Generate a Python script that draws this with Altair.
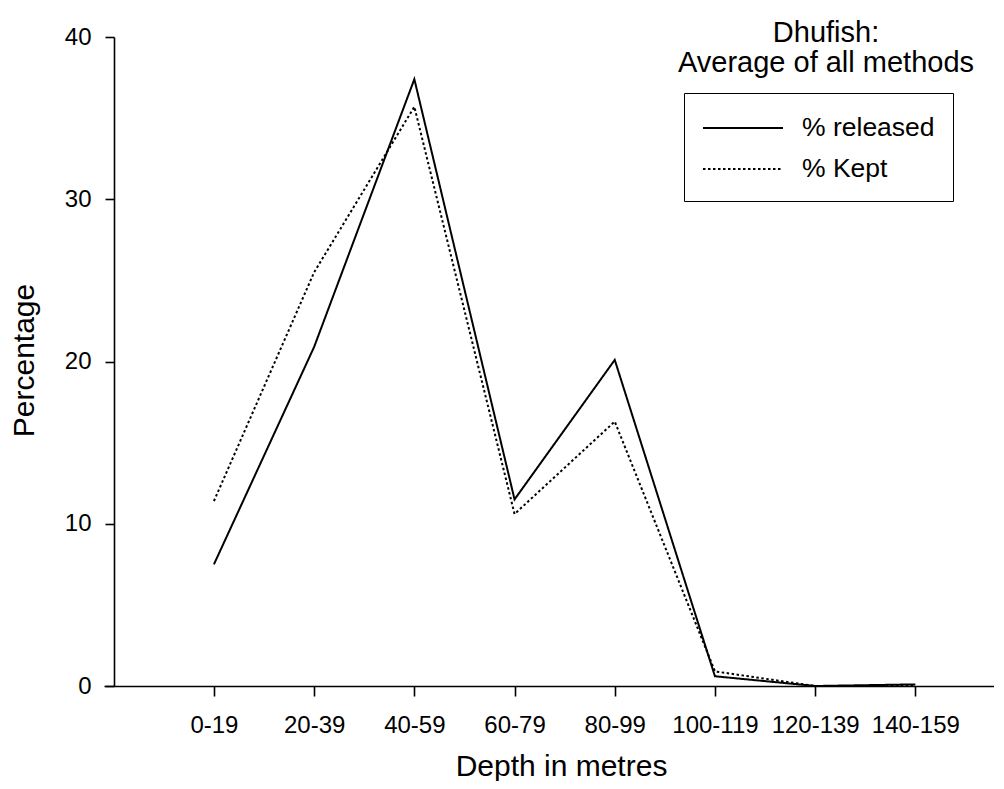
import altair as alt
import pandas as pd

categories = ["0-19", "20-39", "40-59", "60-79", "80-99", "100-119", "120-139", "140-159"]
released = [7.5, 20.9, 37.4, 11.5, 20.1, 0.6, 0.0, 0.1]
kept = [11.4, 25.5, 35.7, 10.6, 16.3, 0.9, 0.0, 0.0]
series_names = ["% released", "% Kept"]
y_ticks = [0, 10, 20, 30, 40]

rows = []
for i, (c, r, k) in enumerate(zip(categories, released, kept)):
    rows.append({"depth": c, "series": "% released", "pct": r, "idx": i})
    rows.append({"depth": c, "series": "% Kept", "pct": k, "idx": i})
df = pd.DataFrame(rows)

FONT = "Liberation Sans"

chart = alt.Chart(df).mark_line(color="black", strokeWidth=2, strokeJoin="miter").encode(
    x=alt.X(
        "depth:N",
        sort=categories,
        scale=alt.Scale(type="point", padding=0.941, align=0.583),
        axis=alt.Axis(
            title="Depth in metres",
            labelAngle=0,
            tickSize=10,
            labelPadding=17,
            titleX=457,
            titleY=89,
            titleBaseline="alphabetic",
            titleAlign="center",
        ),
    ),
    y=alt.Y(
        "pct:Q",
        scale=alt.Scale(domain=[0, 40], nice=False, zero=True),
        axis=alt.Axis(
            title="Percentage",
            values=y_ticks,
            offset=-10,
            tickSize=9,
            labelPadding=14,
            titleAngle=270,
            titleX=-81,
            titleY=323,
            titleBaseline="alphabetic",
            titleAlign="center",
        ),
    ),
    strokeDash=alt.StrokeDash(
        "series:N",
        scale=alt.Scale(domain=series_names, range=[[1, 0], [2.5, 2.5]]),
        legend=alt.Legend(
            orient="none",
            legendX=580,
            legendY=56,
            title=None,
            symbolType="M-1,0H4",
            symbolSize=1024,
            symbolStrokeWidth=2,
            symbolStrokeColor="black",
            symbolFillColor="transparent",
            labelFont=FONT,
            labelFontSize=26.5,
            labelColor="black",
            labelOffset=66,
            padding=18,
            rowPadding=10,
            strokeColor="black",
            fillColor="white",
            cornerRadius=0,
        ),
    ),
    order=alt.Order("idx:Q"),
).properties(
    width=890,
    height=649,
    autosize=alt.AutoSizeParams(type="none"),
    padding={"left": 96, "top": 29, "right": 0, "bottom": 95},
    title=alt.TitleParams(
        text=["Dhufish:", "Average of all methods"],
        font=FONT,
        fontSize=29,
        fontWeight="normal",
        color="black",
        anchor="middle",
        dx=277,
        dy=53,
        lineHeight=30,
        offset=0,
    ),
).configure_view(
    stroke=None
).configure_axis(
    grid=False,
    domainColor="black",
    domainWidth=1.6,
    tickColor="black",
    tickWidth=1.6,
    labelFont=FONT,
    labelFontSize=24,
    labelColor="black",
    titleFont=FONT,
    titleFontSize=30,
    titleFontWeight="normal",
    titleColor="black",
)

chart.save("out.html", embed_options={"renderer": "svg", "actions": False})
